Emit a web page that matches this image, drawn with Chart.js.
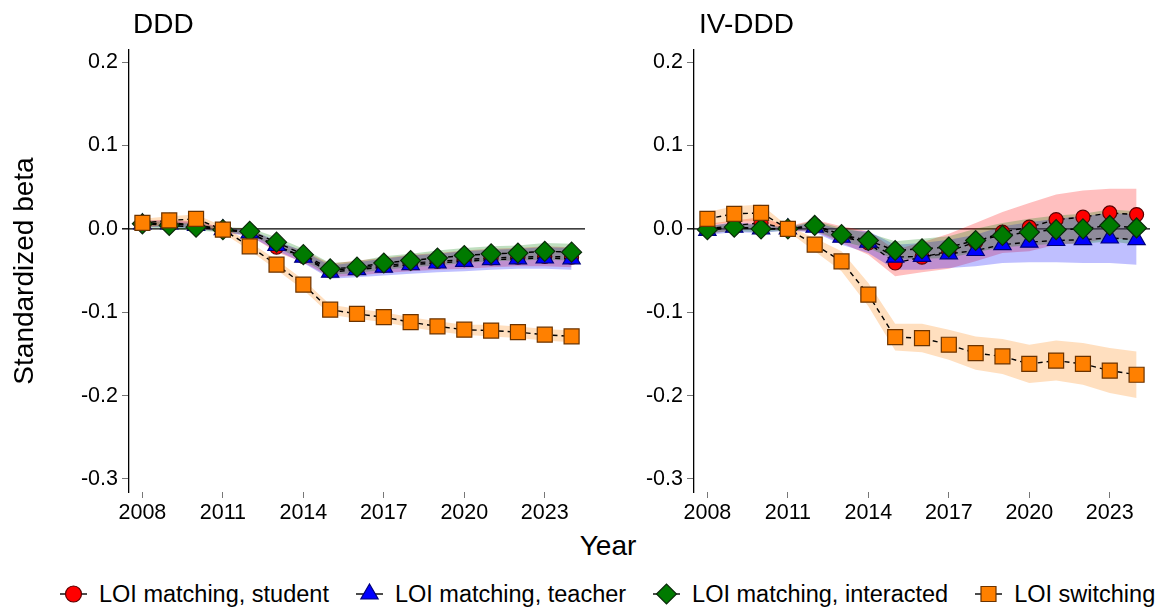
<!DOCTYPE html>
<html lang="en">
<head>
<meta charset="UTF-8">
<title>DDD / IV-DDD</title>
<script src="https://cdn.jsdelivr.net/npm/chart.js@4.4.1/dist/chart.umd.min.js"></script>
<style>
  body { margin: 0; background: #fff; font-family: "Liberation Sans", Arial, sans-serif; }
  #fig { position: relative; width: 1166px; height: 610px; overflow: hidden; }
  .panel { position: absolute; top: 0; width: 600px; height: 530px; }
  .ptitle { position: absolute; top: 10px; font-size: 28px; line-height: 28px; color: #000; }
  #xtitle { position: absolute; left: 558px; top: 532px; width: 100px; text-align: center; font-size: 28px; line-height: 28px; }
  #legend { position: absolute; left: 60px; top: 579px; height: 30px; display: flex; align-items: center; gap: 27px; font-size: 23.5px; line-height: 30px; }
  #legend .item { display: flex; align-items: center; }
  #legend canvas { margin-right: 12px; }
</style>
</head>
<body>
<div id="fig">
  <div class="panel" style="left:0"><canvas id="ddd"></canvas></div>
  <div class="panel" style="left:565px"><canvas id="ivddd"></canvas></div>
  <div class="ptitle" style="left:133px">DDD</div>
  <div class="ptitle" style="left:699px">IV-DDD</div>
  <div id="xtitle">Year</div>
  <div id="legend"></div>
</div>
<script>
// years and axis ticks
const years = [2008, 2009, 2010, 2011, 2012, 2013, 2014, 2015, 2016, 2017, 2018, 2019, 2020, 2021, 2022, 2023, 2024];
const xTicks = [2008, 2011, 2014, 2017, 2020, 2023];
const yTicks = [0.2, 0.1, 0.0, -0.1, -0.2, -0.3];

// DDD panel
const dddStudent      = [0.006, 0.007, 0.005, -0.001, -0.004, -0.022, -0.033, -0.050, -0.047, -0.044, -0.041, -0.039, -0.037, -0.035, -0.034, -0.033, -0.034];
const dddStudentLo    = [0.002, 0.003, 0.001, -0.004, -0.008, -0.028, -0.040, -0.058, -0.056, -0.053, -0.051, -0.049, -0.048, -0.046, -0.045, -0.045, -0.046];
const dddStudentHi    = [0.010, 0.011, 0.009, 0.002, 0.000, -0.016, -0.026, -0.042, -0.038, -0.035, -0.031, -0.029, -0.026, -0.024, -0.023, -0.021, -0.022];
const dddTeacher      = [0.006, 0.006, 0.004, -0.001, -0.005, -0.020, -0.034, -0.052, -0.049, -0.046, -0.043, -0.041, -0.039, -0.037, -0.036, -0.035, -0.036];
const dddTeacherLo    = [0.002, 0.002, 0.000, -0.004, -0.009, -0.026, -0.041, -0.060, -0.058, -0.056, -0.054, -0.052, -0.051, -0.049, -0.048, -0.048, -0.049];
const dddTeacherHi    = [0.010, 0.010, 0.008, 0.002, -0.001, -0.014, -0.027, -0.044, -0.040, -0.036, -0.032, -0.030, -0.027, -0.025, -0.024, -0.022, -0.023];
const dddInteracted   = [0.006, 0.004, 0.002, -0.001, -0.003, -0.016, -0.031, -0.048, -0.046, -0.041, -0.038, -0.035, -0.032, -0.030, -0.029, -0.027, -0.028];
const dddInteractedLo = [0.002, 0.000, -0.002, -0.004, -0.007, -0.022, -0.038, -0.055, -0.053, -0.049, -0.046, -0.044, -0.041, -0.039, -0.038, -0.037, -0.038];
const dddInteractedHi = [0.010, 0.008, 0.006, 0.002, 0.001, -0.010, -0.024, -0.041, -0.039, -0.033, -0.030, -0.026, -0.023, -0.021, -0.020, -0.017, -0.018];
const dddSwitching    = [0.007, 0.010, 0.012, -0.001, -0.021, -0.043, -0.067, -0.097, -0.102, -0.106, -0.112, -0.117, -0.121, -0.122, -0.124, -0.127, -0.129];
const dddSwitchingLo  = [0.002, 0.005, 0.007, -0.005, -0.026, -0.049, -0.073, -0.103, -0.108, -0.112, -0.118, -0.123, -0.127, -0.129, -0.131, -0.134, -0.136];
const dddSwitchingHi  = [0.012, 0.015, 0.017, 0.003, -0.016, -0.037, -0.061, -0.091, -0.096, -0.100, -0.106, -0.111, -0.115, -0.115, -0.117, -0.120, -0.122];

// IV-DDD panel
const ivStudent      = [0.000, 0.004, 0.007, 0.000, 0.004, -0.007, -0.017, -0.041, -0.034, -0.027, -0.016, -0.004, 0.002, 0.011, 0.014, 0.019, 0.017];
const ivStudentLo    = [-0.006, -0.002, 0.000, -0.003, -0.003, -0.017, -0.031, -0.057, -0.052, -0.048, -0.039, -0.029, -0.027, -0.019, -0.017, -0.011, -0.014];
const ivStudentHi    = [0.006, 0.010, 0.014, 0.003, 0.011, 0.003, -0.003, -0.025, -0.016, -0.006, 0.007, 0.020, 0.031, 0.041, 0.046, 0.048, 0.048];
const ivTeacher      = [-0.002, 0.002, 0.000, 0.000, 0.002, -0.010, -0.016, -0.034, -0.033, -0.030, -0.026, -0.019, -0.016, -0.014, -0.013, -0.011, -0.013];
const ivTeacherLo    = [-0.007, -0.004, -0.005, -0.002, -0.004, -0.019, -0.029, -0.049, -0.049, -0.047, -0.045, -0.041, -0.040, -0.040, -0.041, -0.041, -0.043];
const ivTeacherHi    = [0.003, 0.008, 0.005, 0.002, 0.008, -0.001, -0.003, -0.019, -0.017, -0.013, -0.007, 0.003, 0.008, 0.012, 0.015, 0.019, 0.017];
const ivInteracted   = [-0.001, 0.002, 0.000, 0.000, 0.004, -0.007, -0.014, -0.026, -0.024, -0.022, -0.014, -0.008, -0.004, -0.001, 0.000, 0.004, 0.001];
const ivInteractedLo = [-0.005, -0.003, -0.004, -0.002, -0.002, -0.015, -0.023, -0.037, -0.036, -0.035, -0.028, -0.022, -0.020, -0.018, -0.018, -0.015, -0.019];
const ivInteractedHi = [0.003, 0.007, 0.004, 0.002, 0.010, 0.001, -0.005, -0.015, -0.012, -0.009, 0.000, 0.007, 0.012, 0.016, 0.018, 0.023, 0.021];
const ivSwitching    = [0.012, 0.018, 0.019, 0.000, -0.019, -0.039, -0.079, -0.130, -0.131, -0.139, -0.149, -0.153, -0.162, -0.158, -0.162, -0.170, -0.175];
const ivSwitchingLo  = [0.004, 0.009, 0.009, -0.003, -0.027, -0.051, -0.093, -0.146, -0.148, -0.157, -0.169, -0.174, -0.185, -0.182, -0.187, -0.197, -0.203];
const ivSwitchingHi  = [0.020, 0.027, 0.029, 0.003, -0.011, -0.027, -0.065, -0.114, -0.114, -0.121, -0.129, -0.132, -0.139, -0.134, -0.137, -0.143, -0.147];

const seriesLabels = ['LOI matching, student', 'LOI matching, teacher', 'LOI matching, interacted', 'LOI switching'];

// marker styles, one per series
const styles = [
  { pointStyle: 'circle',   radius: 7,    fill: '#ff0000', border: '#5a0000', band: 'rgba(255,0,0,0.25)' },
  { pointStyle: 'triangle', radius: 10,   fill: '#0000ff', border: '#00007a', band: 'rgba(0,0,255,0.25)' },
  { pointStyle: 'rectRot',  radius: 10,   fill: '#007a00', border: '#0b2a0b', band: 'rgba(0,128,0,0.25)' },
  { pointStyle: 'rect',     radius: 10.6, fill: '#ff8000', border: '#6b3300', band: 'rgba(255,128,0,0.25)' }
];

const FONT = '"Liberation Sans", Arial, sans-serif';

function pts(vals) {
  return years.map((y, i) => ({ x: y, y: vals[i] }));
}

function buildDatasets(series) {
  const bands = [];
  const lines = [];
  series.forEach((s, k) => {
    const st = styles[k];
    bands.push({
      data: pts(s.hi), fill: '+1', backgroundColor: st.band,
      borderWidth: 0, pointRadius: 0, order: 20 - k
    });
    bands.push({
      data: pts(s.lo), fill: false, borderWidth: 0, pointRadius: 0, order: 20 - k
    });
    lines.push({
      label: seriesLabels[k],
      data: pts(s.est),
      fill: false,
      borderColor: '#000',
      borderWidth: 1.4,
      borderDash: [5, 4],
      pointStyle: st.pointStyle,
      pointRadius: st.radius,
      pointBackgroundColor: st.fill,
      pointBorderColor: st.border,
      pointBorderWidth: 1.2,
      order: 10 - k
    });
  });
  return bands.concat(lines);
}

// horizontal reference line at zero
const zeroLine = {
  id: 'zeroLine',
  beforeDatasetsDraw(chart) {
    const { ctx, chartArea, scales } = chart;
    const y0 = scales.y.getPixelForValue(0);
    ctx.save();
    ctx.strokeStyle = '#000';
    ctx.lineWidth = 1.3;
    ctx.beginPath();
    ctx.moveTo(chartArea.left - 7, y0);
    ctx.lineTo(chartArea.right, y0);
    ctx.stroke();
    ctx.restore();
  }
};

function makeChart(id, series, showYTitle) {
  return new Chart(document.getElementById(id), {
    type: 'line',
    data: { datasets: buildDatasets(series) },
    options: {
      responsive: false,
      animation: false,
      layout: { padding: { top: 50, right: 15, left: 0, bottom: 0 } },
      plugins: { legend: { display: false }, tooltip: { enabled: false } },
      scales: {
        x: {
          type: 'linear', min: 2007.5, max: 2024.5,
          afterBuildTicks: s => { s.ticks = xTicks.map(v => ({ value: v })); },
          afterFit: s => { s.height = 38; },
          border: { display: false },
          grid: { drawOnChartArea: false, drawTicks: true, tickLength: 6, color: '#777', lineWidth: 1 },
          ticks: { font: { family: FONT, size: 21.5 }, color: '#000', padding: 2, maxRotation: 0, callback: v => String(v) }
        },
        y: {
          min: -0.3156, max: 0.2144,
          afterBuildTicks: s => { s.ticks = yTicks.map(v => ({ value: v })); },
          afterFit: s => { s.width = 129; },
          border: { display: true, color: '#000', width: 1.3 },
          grid: { drawOnChartArea: false, drawTicks: true, tickLength: 7, color: '#777', lineWidth: 1 },
          ticks: { font: { family: FONT, size: 21.5 }, color: '#000', padding: 4, callback: v => v.toFixed(1) },
          title: { display: showYTitle, text: 'Standardized beta', color: '#000', font: { family: FONT, size: 28 }, padding: { top: 8, bottom: 0 } }
        }
      }
    },
    plugins: [zeroLine]
  });
}

['ddd', 'ivddd'].forEach(id => {
  const c = document.getElementById(id);
  c.width = 600; c.height = 530;
  c.style.width = '600px'; c.style.height = '530px';
});

makeChart('ddd', [
  { est: dddStudent, lo: dddStudentLo, hi: dddStudentHi },
  { est: dddTeacher, lo: dddTeacherLo, hi: dddTeacherHi },
  { est: dddInteracted, lo: dddInteractedLo, hi: dddInteractedHi },
  { est: dddSwitching, lo: dddSwitchingLo, hi: dddSwitchingHi }
], true);

makeChart('ivddd', [
  { est: ivStudent, lo: ivStudentLo, hi: ivStudentHi },
  { est: ivTeacher, lo: ivTeacherLo, hi: ivTeacherHi },
  { est: ivInteracted, lo: ivInteractedLo, hi: ivInteractedHi },
  { est: ivSwitching, lo: ivSwitchingLo, hi: ivSwitchingHi }
], false);

// legend: marker with a short line through it, then the label
const legend = document.getElementById('legend');
styles.forEach((st, k) => {
  const item = document.createElement('div');
  item.className = 'item';
  const cv = document.createElement('canvas');
  cv.width = 27; cv.height = 26;
  cv.style.width = '27px'; cv.style.height = '26px';
  const g = cv.getContext('2d');
  g.strokeStyle = '#000'; g.lineWidth = 1.4;
  g.beginPath(); g.moveTo(0, 13); g.lineTo(27, 13); g.stroke();
  g.fillStyle = st.fill; g.strokeStyle = st.border; g.lineWidth = 1.2;
  g.beginPath();
  const cx = 13.5, cy = 13, r = st.radius;
  if (st.pointStyle === 'circle') {
    g.arc(cx, cy, 8, 0, Math.PI * 2);
  } else if (st.pointStyle === 'triangle') {
    for (let j = 0; j < 3; j++) {
      const a = j * 2 * Math.PI / 3;
      const px = cx + Math.sin(a) * r, py = cy - Math.cos(a) * r;
      j === 0 ? g.moveTo(px, py) : g.lineTo(px, py);
    }
    g.closePath();
  } else if (st.pointStyle === 'rectRot') {
    g.moveTo(cx - r, cy); g.lineTo(cx, cy - r); g.lineTo(cx + r, cy); g.lineTo(cx, cy + r); g.closePath();
  } else {
    const h = r * Math.SQRT1_2;
    g.rect(cx - h, cy - h, 2 * h, 2 * h);
  }
  g.fill(); g.stroke();
  const txt = document.createElement('span');
  txt.textContent = seriesLabels[k];
  item.appendChild(cv);
  item.appendChild(txt);
  legend.appendChild(item);
});
</script>
</body>
</html>
